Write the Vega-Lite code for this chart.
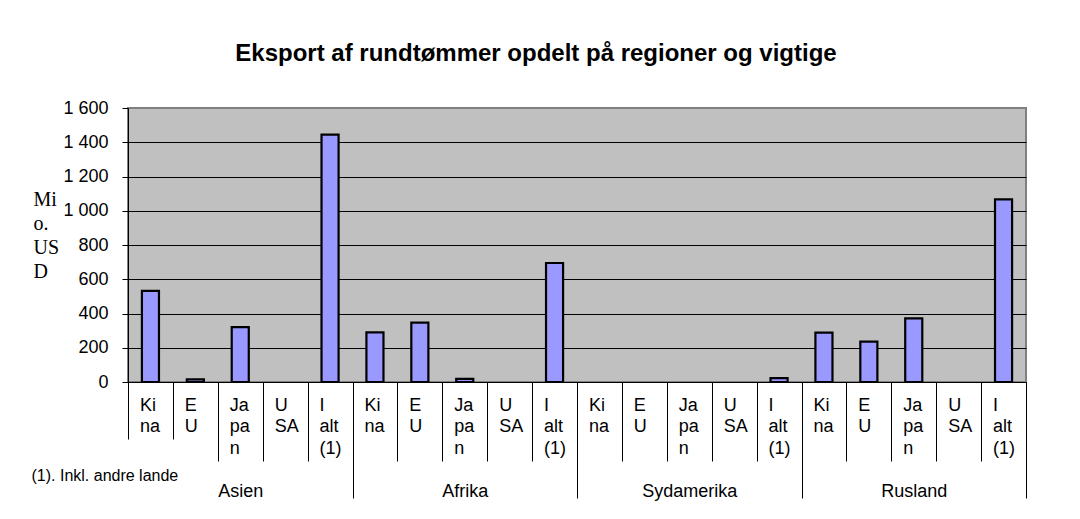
{
  "$schema": "https://vega.github.io/schema/vega-lite/v6.json",
  "width": 898,
  "height": 274,
  "autosize": "none",
  "padding": {"left": 128, "top": 108, "right": 54, "bottom": 137},
  "background": "white",
  "title": {
    "text": "Eksport af rundtømmer opdelt på regioner og vigtige",
    "font": "Liberation Sans",
    "fontSize": 24,
    "fontWeight": "bold",
    "color": "#000000",
    "anchor": "middle",
    "dx": -41,
    "baseline": "alphabetic",
    "offset": 14
  },
  "data": {
    "values": [
      {"key": "Asien|Kina", "region": "Asien", "country": "Kina", "value": 532},
      {"key": "Asien|EU", "region": "Asien", "country": "EU", "value": 15},
      {"key": "Asien|Japan", "region": "Asien", "country": "Japan", "value": 320},
      {"key": "Asien|USA", "region": "Asien", "country": "USA", "value": 0},
      {"key": "Asien|I alt (1)", "region": "Asien", "country": "I alt (1)", "value": 1444},
      {"key": "Afrika|Kina", "region": "Afrika", "country": "Kina", "value": 290},
      {"key": "Afrika|EU", "region": "Afrika", "country": "EU", "value": 347},
      {"key": "Afrika|Japan", "region": "Afrika", "country": "Japan", "value": 18},
      {"key": "Afrika|USA", "region": "Afrika", "country": "USA", "value": 0},
      {"key": "Afrika|I alt (1)", "region": "Afrika", "country": "I alt (1)", "value": 695},
      {"key": "Sydamerika|Kina", "region": "Sydamerika", "country": "Kina", "value": 0},
      {"key": "Sydamerika|EU", "region": "Sydamerika", "country": "EU", "value": 0},
      {"key": "Sydamerika|Japan", "region": "Sydamerika", "country": "Japan", "value": 0},
      {"key": "Sydamerika|USA", "region": "Sydamerika", "country": "USA", "value": 0},
      {"key": "Sydamerika|I alt (1)", "region": "Sydamerika", "country": "I alt (1)", "value": 23},
      {"key": "Rusland|Kina", "region": "Rusland", "country": "Kina", "value": 288},
      {"key": "Rusland|EU", "region": "Rusland", "country": "EU", "value": 236},
      {"key": "Rusland|Japan", "region": "Rusland", "country": "Japan", "value": 372},
      {"key": "Rusland|USA", "region": "Rusland", "country": "USA", "value": 0},
      {"key": "Rusland|I alt (1)", "region": "Rusland", "country": "I alt (1)", "value": 1067}
    ]
  },
  "layer": [
    {
      "mark": {"type": "bar", "fill": "#9999FF", "stroke": "#000000", "strokeWidth": 2.2, "width": {"band": 0.38}},
      "encoding": {
        "x": {
          "field": "key",
          "type": "nominal",
          "sort": null,
          "scale": {"paddingInner": 0, "paddingOuter": 0},
          "axis": {
            "title": null,
            "orient": "bottom",
            "tickBand": "extent",
            "domain": true,
            "domainColor": "#000000",
            "domainWidth": 1,
            "ticks": true,
            "tickColor": "#000000",
            "tickWidth": 1,
            "tickSize": {"condition": {"test": "!isValid(datum.value) || datum.value == 'Asien|Kina'", "value": 57}, "value": 79},
            "labelPadding": {"condition": {"test": "datum.value == 'Asien|Kina'", "value": -29}, "value": -51},
            "labelAngle": 0,
            "labelAlign": "left",
            "labelOffset": -11,
            "labelBaseline": "alphabetic",
            "labelLineHeight": 21.5,
            "labelFont": "Liberation Sans",
            "labelFontSize": 18,
            "labelColor": "#000000",
            "labelOverlap": false,
            "labelBound": false,
            "labelFlush": false,
            "labelExpr": "datum.label == '' ? '' : (indexof(datum.label, 'Kina') >= 0 ? ['Ki','na'] : indexof(datum.label, 'EU') >= 0 ? ['E','U'] : indexof(datum.label, 'Japan') >= 0 ? ['Ja','pa','n'] : indexof(datum.label, 'USA') >= 0 ? ['U','SA'] : ['I','alt','(1)'])"
          }
        },
        "y": {
          "field": "value",
          "type": "quantitative",
          "scale": {"domain": [0, 1600], "nice": false},
          "axis": {
            "values": [0, 200, 400, 600, 800, 1000, 1200, 1400, 1600],
            "title": ["Mi", "o.", "US", "D"],
            "titleAngle": 0,
            "titleAlign": "left",
            "titleBaseline": "alphabetic",
            "titleX": -95,
            "titleY": 97,
            "titleFont": "Liberation Serif",
            "titleFontSize": 20,
            "titleFontWeight": "normal",
            "titleColor": "#000000",
            "titleLineHeight": 24,
            "labelExpr": "replace(format(datum.value, ','), ',', ' ')",
            "labelFont": "Liberation Sans",
            "labelFontSize": 18,
            "labelColor": "#000000",
            "labelPadding": 14,
            "labelOverlap": false,
            "tickSize": 6,
            "tickColor": "#000000",
            "tickWidth": 1,
            "domain": true,
            "domainColor": "#000000",
            "domainWidth": 1,
            "grid": true,
            "gridColor": {"condition": {"test": "datum.value == 1600", "value": "#808080"}, "value": "#000000"},
            "gridWidth": 1.2,
            "gridOpacity": 1
          }
        },
        "strokeOpacity": {"condition": {"test": "datum.value == 0", "value": 0}, "value": 1}
      }
    },
    {
      "mark": {"type": "rule", "opacity": 0},
      "encoding": {
        "x": {
          "field": "region",
          "type": "nominal",
          "sort": null,
          "scale": {"paddingInner": 0, "paddingOuter": 0},
          "axis": {
            "title": "(1). Inkl. andre lande",
            "orient": "bottom",
            "tickBand": "extent",
            "domain": false,
            "grid": false,
            "ticks": true,
            "tickColor": "#000000",
            "tickWidth": 1,
            "tickSize": 116,
            "tickOpacity": {"condition": {"test": "!isValid(datum.value)", "value": 0}, "value": 1},
            "labelAngle": 0,
            "labelAlign": "center",
            "labelBaseline": "alphabetic",
            "labelPadding": -1.3,
            "labelFont": "Liberation Sans",
            "labelFontSize": 18,
            "labelColor": "#000000",
            "labelOverlap": false,
            "labelBound": false,
            "labelFlush": false,
            "titleX": -97,
            "titleY": 98.7,
            "titleAlign": "left",
            "titleAnchor": "start",
            "titleBaseline": "alphabetic",
            "titleAngle": 0,
            "titleFont": "Liberation Sans",
            "titleFontSize": 16,
            "titleFontWeight": "normal",
            "titleColor": "#000000"
          }
        }
      }
    }
  ],
  "resolve": {"scale": {"x": "independent"}, "axis": {"x": "independent"}},
  "config": {"view": {"fill": "#C0C0C0", "stroke": "#808080", "strokeWidth": 2}}
}
